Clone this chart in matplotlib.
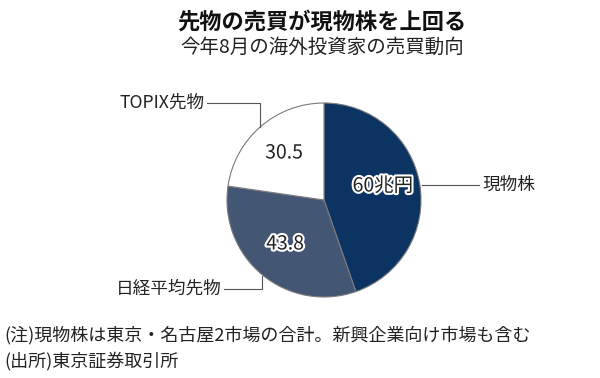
import matplotlib
matplotlib.use('Agg')
import matplotlib.pyplot as plt
import matplotlib.patheffects as pe

plt.rcParams['font.family'] = ['Noto Sans CJK JP', 'DejaVu Sans']

labels = ['現物株', '日経平均先物', 'TOPIX先物']
values = [60, 43.8, 30.5]
value_texts = ['60兆円', '43.8', '30.5']
colors = ['#0b3463', '#435674', '#ffffff']

title = '先物の売買が現物株を上回る'
subtitle = '今年8月の海外投資家の売買動向'
notes = ['(注)現物株は東京・名古屋2市場の合計。新興企業向け市場も含む',
         '(出所)東京証券取引所']

H = 378


def py(y):
    # pixel y (from top) -> axes y
    return H - y


fig = plt.figure(figsize=(6, 3.78), dpi=100)
ax = fig.add_axes([0, 0, 1, 1])

cx, cy, r = 324, 200, 97
ax.pie(values, colors=colors, startangle=90, counterclock=False,
       center=(cx, py(cy)), radius=r, frame=True,
       wedgeprops=dict(edgecolor='#7a7a7a', linewidth=0.8))
ax.set_xlim(0, 600)
ax.set_ylim(0, H)
ax.set_aspect('equal')
ax.axis('off')

halo = [pe.withStroke(linewidth=3, foreground='white')]
txt_pos = [(383, 186), (285, 244), (284, 153)]
for t, (x, y) in zip(value_texts, txt_pos):
    ax.text(x, py(y), t, ha='center', va='center', fontsize=14,
            color='#222222', path_effects=halo)

lc = '#555555'
fs = 12.7
# 現物株
ax.plot([422, 479], [py(185), py(185)], color=lc, lw=0.8)
ax.text(482, py(185), labels[0], ha='left', va='center', fontsize=fs, color='#222222')
# 日経平均先物
ax.plot([224, 262, 262], [py(289), py(289), py(276)], color=lc, lw=0.8)
ax.text(222, py(289), labels[1], ha='right', va='center', fontsize=fs, color='#222222')
# TOPIX先物
ax.plot([207, 260, 260], [py(103), py(103), py(127)], color=lc, lw=0.8)
ax.text(205, py(103), labels[2], ha='right', va='center', fontsize=fs, color='#222222')

ax.text(322, py(22), title, ha='center', va='center', fontsize=16,
        fontweight='bold', color='#111111')
ax.text(322, py(47), subtitle, ha='center', va='center', fontsize=14, color='#222222')

ax.text(4, py(335), notes[0], ha='left', va='center', fontsize=13, color='#222222')
ax.text(4, py(361), notes[1], ha='left', va='center', fontsize=13, color='#222222')

fig.savefig('out.png', dpi=100)
